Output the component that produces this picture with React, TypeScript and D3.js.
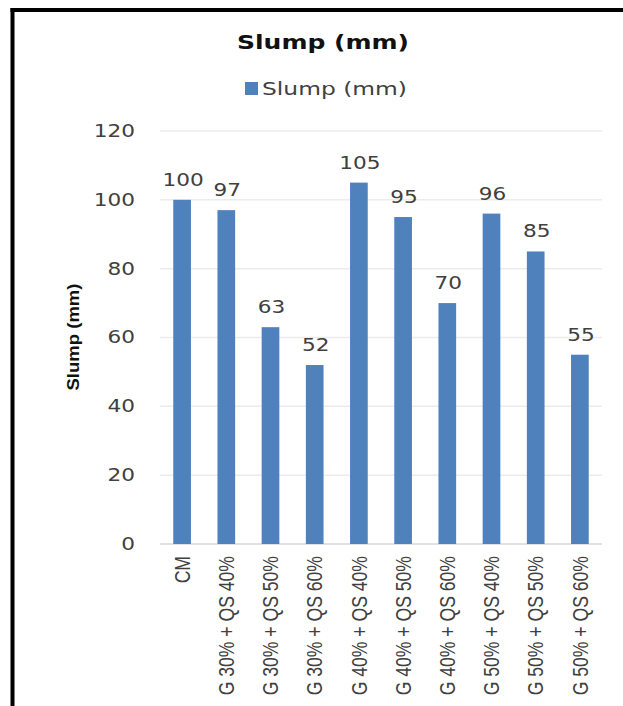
import React from "react";
import * as d3 from "d3";

const categories = [
  "CM",
  "G 30% + QS 40%",
  "G 30% + QS 50%",
  "G 30% + QS 60%",
  "G 40% + QS 40%",
  "G 40% + QS 50%",
  "G 40% + QS 60%",
  "G 50% + QS 40%",
  "G 50% + QS 50%",
  "G 50% + QS 60%",
];
const slumpValues = [100, 97, 63, 52, 105, 95, 70, 96, 85, 55];
const yTicks = [0, 20, 40, 60, 80, 100, 120];
const chartTitle = "Slump (mm)";
const seriesName = "Slump (mm)";
const yAxisTitle = "Slump (mm)";

const W = 623;
const H = 706;
const plot = { left: 160, right: 602, top: 131, bottom: 544 };
const barColor = "#4F81BD";

export default function App() {
  const x = d3
    .scaleBand<string>()
    .domain(categories)
    .range([plot.left, plot.right])
    .paddingInner(0.6)
    .paddingOuter(0.3);
  const y = d3.scaleLinear().domain([0, 120]).range([plot.bottom, plot.top]);

  return (
    <svg
      width={W}
      height={H}
      style={{ position: "absolute", left: 0, top: 0, background: "#fff" }}
    >
      <rect x={0} y={0} width={W} height={H} fill="#fff" />
      {/* frame */}
      <line x1={12.5} y1={8} x2={12.5} y2={H} stroke="#000" strokeWidth={4} />
      <line x1={10.5} y1={10} x2={W} y2={10} stroke="#000" strokeWidth={4} />

      {/* title */}
      <text
        x={323}
        y={42}
        textAnchor="middle"
        dominantBaseline="central"
        fontFamily="DejaVu Sans, sans-serif"
        fontWeight="bold"
        fontSize={19}
        textLength={172}
        lengthAdjust="spacingAndGlyphs"
        fill="#111"
      >
        {chartTitle}
      </text>

      {/* legend */}
      <rect x={245} y={82} width={13} height={13} fill={barColor} />
      <text
        x={262}
        y={89}
        dominantBaseline="central"
        fontFamily="DejaVu Sans, sans-serif"
        fontSize={17}
        textLength={145}
        lengthAdjust="spacingAndGlyphs"
        fill="#404040"
      >
        {seriesName}
      </text>

      {/* gridlines */}
      {yTicks.map((t) => (
        <line
          key={"g" + t}
          x1={plot.left}
          x2={plot.right}
          y1={y(t)}
          y2={y(t)}
          stroke={t === 0 ? "#d9d9d9" : "#ececec"}
          strokeWidth={1.5}
        />
      ))}

      {/* y tick labels */}
      {yTicks.map((t) => (
        <text
          key={"t" + t}
          transform={`translate(135, ${y(t)}) scale(1.2,1)`}
          textAnchor="end"
          dominantBaseline="central"
          fontFamily="DejaVu Sans, sans-serif"
          fontSize={18}
          fill="#404040"
        >
          {t}
        </text>
      ))}

      {/* y axis title */}
      <text
        transform={`translate(73, 337) rotate(-90)`}
        textAnchor="middle"
        dominantBaseline="central"
        fontFamily="Liberation Sans, Arial, sans-serif"
        fontWeight="bold"
        fontSize={17}
        textLength={107}
        lengthAdjust="spacingAndGlyphs"
        fill="#111"
      >
        {yAxisTitle}
      </text>

      {/* bars */}
      {categories.map((c, i) => (
        <rect
          key={"b" + c}
          x={x(c)!}
          y={y(slumpValues[i])}
          width={x.bandwidth()}
          height={y(0) - y(slumpValues[i])}
          fill={barColor}
        />
      ))}

      {/* data labels */}
      {categories.map((c, i) => (
        <text
          key={"l" + c}
          transform={`translate(${x(c)! + x.bandwidth() / 2 + 1}, ${y(slumpValues[i]) - 14}) scale(1.2,1)`}
          textAnchor="middle"
          fontFamily="DejaVu Sans, sans-serif"
          fontSize={18}
          fill="#404040"
        >
          {slumpValues[i]}
        </text>
      ))}

      {/* x labels */}
      {categories.map((c) => (
        <text
          key={"x" + c}
          transform={`translate(${x(c)! + x.bandwidth() / 2}, 556) rotate(-90) scale(0.8,1)`}
          textAnchor="end"
          dominantBaseline="central"
          fontFamily="Liberation Sans, Arial, sans-serif"
          fontSize={22}
          fill="#404040"
        >
          {c}
        </text>
      ))}
    </svg>
  );
}
